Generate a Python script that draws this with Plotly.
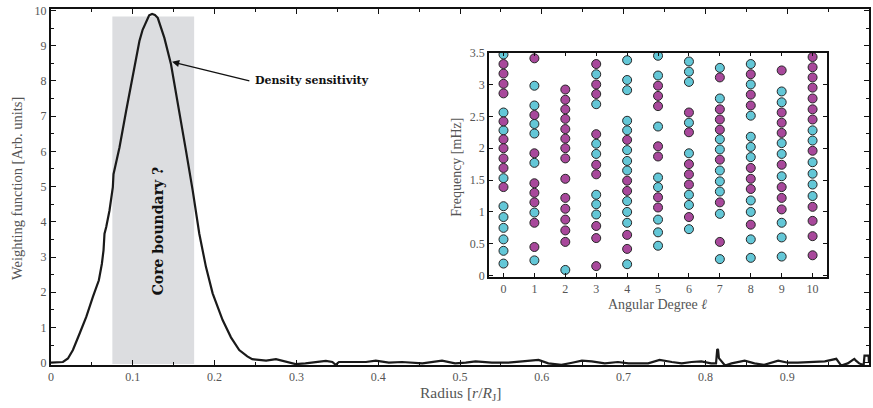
import plotly.graph_objects as go

# Weighting function (density sensitivity) versus normalised radius
radius = [0, 0.008, 0.0146, 0.0207, 0.0268, 0.035, 0.0431, 0.0512, 0.0585, 0.0622,
          0.0634, 0.0642, 0.0654, 0.0675, 0.0715, 0.0756, 0.0764, 0.0837, 0.0919, 0.1,
          0.1081, 0.112, 0.1163, 0.12, 0.1236, 0.127, 0.1305, 0.1386, 0.1467, 0.1569,
          0.165, 0.1732, 0.1813, 0.1894, 0.1976, 0.2098, 0.22, 0.2301, 0.24, 0.246,
          0.263, 0.275, 0.287, 0.299, 0.311, 0.324, 0.336, 0.344, 0.348, 0.352,
          0.368, 0.385, 0.397, 0.413, 0.429, 0.441, 0.454, 0.478, 0.494, 0.507,
          0.519, 0.539, 0.559, 0.576, 0.596, 0.608, 0.624, 0.637, 0.649, 0.661,
          0.677, 0.693, 0.706, 0.73, 0.744, 0.759, 0.771, 0.783, 0.795, 0.807,
          0.813, 0.8145, 0.8155, 0.8165, 0.82, 0.824, 0.832, 0.848, 0.86, 0.872,
          0.889, 0.901, 0.913, 0.929, 0.946, 0.96, 0.966, 0.974, 0.982, 0.984,
          0.988, 0.9925, 0.9935, 0.9945, 0.9995, 1.0]
weight = [0.0, 0.0, 0.02, 0.12, 0.36, 0.83, 1.3, 1.87, 2.34, 2.81,
          3.0, 3.19, 3.66, 3.85, 4.32, 4.98, 5.35, 6.11, 7.15, 8.19,
          9.13, 9.45, 9.7, 9.86, 9.9, 9.87, 9.79, 9.22, 8.47, 7.15,
          6.02, 4.89, 3.66, 2.72, 1.97, 1.21, 0.72, 0.36, 0.18, 0.1,
          0.06, 0.1, 0.02, -0.04, -0.02, 0.02, 0.05, 0.02, -0.06, 0.02,
          0.02, 0.02, 0.06, 0.0, 0.02, 0.0, -0.02, 0.06, -0.02, 0.0,
          0.04, 0.0, 0.0, 0.04, 0.08, -0.02, -0.06, 0.0, 0.06, 0.04,
          -0.02, 0.02, -0.02, -0.02, 0.08, 0.02, -0.02, 0.02, 0.04, -0.02,
          -0.02, 0.39, 0.36, 0.13, 0.04, -0.08, -0.02, 0.06, -0.02, -0.06,
          0.06, 0.0, 0.0, 0.02, 0.04, 0.11, -0.08, -0.02, 0.11, 0.06,
          -0.02, -0.06, -0.06, 0.2, 0.2, 0.0]

# Oscillation modes: angular degree and frequency (mHz), two families
cyan_degree = ([0] * 10 + [1] * 7 + [2] * 1 + [3] * 7 + [4] * 12 + [5] * 8
               + [6] * 8 + [7] * 9 + [8] * 10 + [9] * 8 + [10] * 6)
cyan_freq = [3.47, 2.56, 2.28, 1.53, 1.09, 0.92, 0.75, 0.57, 0.39, 0.19,
             2.98, 2.67, 2.38, 2.23, 1.77, 0.99, 0.24,
             0.09,
             3.16, 2.69, 2.07, 1.91, 1.27, 1.12, 0.96,
             3.38, 3.07, 2.91, 2.43, 2.28, 1.97, 1.80, 1.65, 1.17, 1.00, 0.83, 0.18,
             3.45, 3.14, 2.34, 1.54, 1.39, 0.88, 0.68, 0.47,
             3.36, 3.20, 3.04, 2.40, 1.92, 1.27, 1.11, 0.73,
             3.26, 2.78, 2.14, 1.98, 1.65, 1.48, 1.32, 0.97, 0.26,
             3.32, 3.00, 2.51, 2.18, 2.02, 1.86, 1.18, 1.00, 0.57, 0.28,
             2.89, 2.72, 2.08, 1.91, 1.56, 0.83, 0.60, 0.30,
             2.28, 2.12, 1.78, 1.60, 1.43, 1.25]

magenta_degree = ([0] * 10 + [1] * 8 + [2] * 14 + [3] * 9 + [4] * 5 + [5] * 7
                  + [6] * 6 + [7] * 7 + [8] * 7 + [9] * 8 + [10] * 12)
magenta_freq = [3.32, 3.17, 3.01, 2.86, 2.42, 2.14, 2.00, 1.84, 1.69, 1.39,
                3.41, 2.52, 1.92, 1.45, 1.30, 1.15, 0.83, 0.45,
                2.92, 2.76, 2.61, 2.46, 2.30, 2.15, 2.00, 1.84, 1.52, 1.22, 1.05, 0.88, 0.71, 0.53,
                3.32, 3.00, 2.85, 2.22, 1.74, 1.59, 0.78, 0.59, 0.15,
                2.13, 1.49, 1.33, 0.64, 0.42,
                2.98, 2.82, 2.66, 2.03, 1.87, 1.23, 1.07,
                2.56, 2.25, 1.75, 1.59, 1.43, 0.92,
                3.11, 2.61, 2.45, 2.29, 1.82, 1.15, 0.53,
                3.16, 2.84, 2.67, 1.69, 1.52, 1.36, 0.80,
                3.22, 2.56, 2.40, 2.24, 1.74, 1.39, 1.22, 1.04,
                3.43, 3.27, 3.11, 2.95, 2.78, 2.61, 2.45, 1.96, 1.08, 0.86, 0.62, 0.32]

radius_ticks = [0, 0.1, 0.2, 0.3, 0.4, 0.5, 0.6, 0.7, 0.8, 0.9]
radius_labels = ["0", "0.1", "0.2", "0.3", "0.4", "0.5", "0.6", "0.7", "0.8", "0.9"]
weight_ticks = list(range(0, 11))
degree_ticks = list(range(0, 11))
freq_ticks = [0, 0.5, 1, 1.5, 2, 2.5, 3, 3.5]
freq_labels = ["0", "0.5", "1", "1.5", "2", "2.5", "3", "3.5"]
core_band = (0.075, 0.175)

FONT = "Liberation Serif"
BOLD_FONT = "DejaVu Serif"
GREY = "#555555"

fig = go.Figure()

fig.add_trace(go.Scatter(
    x=radius, y=weight, mode="lines",
    line=dict(color="#1a1a1a", width=2.2),
    xaxis="x", yaxis="y", showlegend=False, hoverinfo="skip"))

fig.add_trace(go.Scatter(
    x=cyan_degree, y=cyan_freq, mode="markers",
    marker=dict(size=9, color="#63c7d7", line=dict(color="#262626", width=1)),
    xaxis="x2", yaxis="y2", showlegend=False))
fig.add_trace(go.Scatter(
    x=magenta_degree, y=magenta_freq, mode="markers",
    marker=dict(size=9, color="#a8489b", line=dict(color="#262626", width=1)),
    xaxis="x2", yaxis="y2", showlegend=False))

# shaded band marking the possible core boundary
fig.add_shape(type="rect", xref="x", yref="y",
              x0=core_band[0], x1=core_band[1], y0=-0.04, y1=9.83,
              fillcolor="#dcdde0", line=dict(width=0), layer="below")

fig.add_annotation(x=0.1305, y=3.75, xref="x", yref="y", text="<b>Core boundary ?</b>",
                   textangle=-90, showarrow=False,
                   font=dict(family=BOLD_FONT, size=14, color="#111111"))
# label with its arrow pointing at the curve
fig.add_annotation(x=0.148, y=8.54, xref="x", yref="y", ax=0.2425, ay=8.0,
                   axref="x", ayref="y", xanchor="left", yanchor="middle",
                   text="<b>Density sensitivity</b>", showarrow=True,
                   arrowhead=2, arrowsize=1.1, arrowwidth=1.3, arrowcolor="#111111",
                   standoff=0, startstandoff=0, borderpad=5,
                   font=dict(family=BOLD_FONT, size=11, color="#111111"))

# axis titles placed as paper-anchored text
title_font = dict(family=FONT, color=GREY)
fig.add_annotation(x=-0.0415, y=0.4944, xref="paper", yref="paper",
                   text="Weighting function [Arb. units]", textangle=-90,
                   showarrow=False, xanchor="center", yanchor="middle",
                   font=dict(size=14.5, **title_font))
fig.add_annotation(x=0.5, y=-0.0812, xref="paper", yref="paper",
                   text="Radius [<i>r</i>/<i>R</i><sub>J</sub>]", showarrow=False,
                   xanchor="center", yanchor="middle",
                   font=dict(size=15.5, **title_font))
fig.add_annotation(x=0.4957, y=0.5555, xref="paper", yref="paper",
                   text="Frequency [mHz]", textangle=-90,
                   showarrow=False, xanchor="center", yanchor="middle",
                   font=dict(size=14, **title_font))
fig.add_annotation(x=0.7415, y=0.1695, xref="paper", yref="paper",
                   text="Angular Degree <i>ℓ</i>", showarrow=False,
                   xanchor="center", yanchor="middle",
                   font=dict(size=14, **title_font))

axis_common = dict(ticks="inside", tickcolor="#111111", tickwidth=1,
                   showline=True, linecolor="#111111", mirror="allticks",
                   showgrid=False, zeroline=False,
                   tickfont=dict(family=FONT, size=12, color=GREY))

fig.update_layout(
    width=873, height=408,
    margin=dict(l=51, r=2, t=8, b=43),
    paper_bgcolor="white", plot_bgcolor="white",
    xaxis=dict(range=[0, 1.0], tickvals=radius_ticks, ticktext=radius_labels,
               ticklen=5, linewidth=2,
               minor=dict(tickvals=[0.05, 0.15, 0.25, 0.35, 0.45, 0.55, 0.65, 0.75, 0.85, 0.95],
                          ticks="inside", ticklen=3, tickcolor="#111111"),
               **axis_common),
    yaxis=dict(range=[-0.065, 10.04], tickvals=weight_ticks, ticklen=5, linewidth=2,
               minor=dict(dtick=0.5, ticks="inside", ticklen=3, tickcolor="#111111"),
               **axis_common),
    xaxis2=dict(domain=[0.5354, 0.9488], anchor="y2", range=[-0.47, 10.47],
                tickvals=degree_ticks, ticklen=4, linewidth=1.6,
                **axis_common),
    yaxis2=dict(domain=[0.2473, 0.8776], anchor="x2", range=[-0.02, 3.5],
                tickvals=freq_ticks, ticktext=freq_labels, ticklen=4, linewidth=1.6,
                **axis_common),
)

fig.write_html("out.html")
